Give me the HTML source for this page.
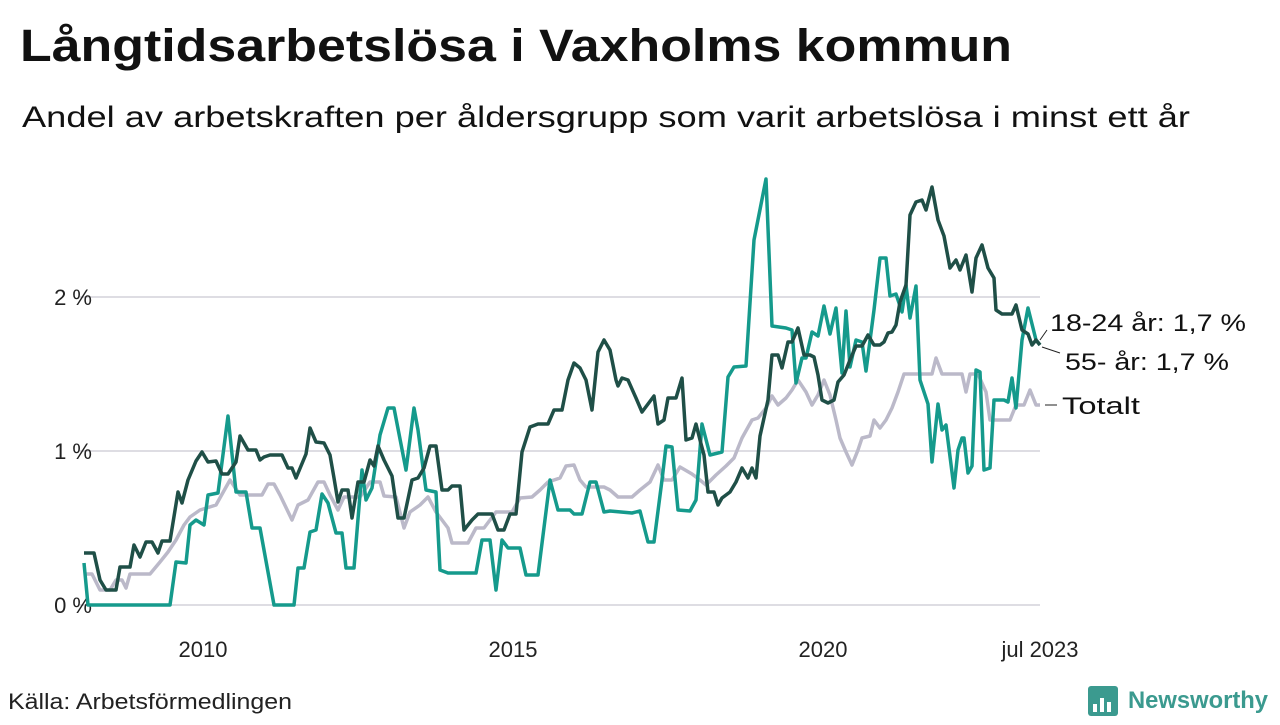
<!DOCTYPE html>
<html><head><meta charset="utf-8"><style>
body{margin:0;width:1280px;height:720px;background:#fff;overflow:hidden;font-family:"Liberation Sans","DejaVu Sans",sans-serif;color:#111}
</style></head><body>
<svg width="1280" height="720" viewBox="0 0 1280 720" xmlns="http://www.w3.org/2000/svg" font-family="Liberation Sans, DejaVu Sans, sans-serif">
<text x="20" y="61" font-size="45" font-weight="bold" fill="#111" textLength="992" lengthAdjust="spacingAndGlyphs">Långtidsarbetslösa i Vaxholms kommun</text>
<text x="22" y="127" font-size="30" fill="#111" textLength="1168" lengthAdjust="spacingAndGlyphs">Andel av arbetskraften per åldersgrupp som varit arbetslösa i minst ett år</text>
<g stroke="#dedde3" stroke-width="2">
<line x1="80" y1="297" x2="1040" y2="297"/><line x1="80" y1="451" x2="1040" y2="451"/><line x1="80" y1="605" x2="1040" y2="605"/>
</g>
<g font-size="22" fill="#222" text-anchor="end">
<text x="92" y="305">2 %</text><text x="92" y="459">1 %</text><text x="92" y="613">0 %</text>
</g>
<g font-size="22" fill="#222" text-anchor="middle">
<text x="203" y="657">2010</text><text x="513" y="657">2015</text><text x="823" y="657">2020</text><text x="1040" y="657">jul 2023</text>
</g>
<g fill="none" stroke-width="3.5" stroke-linejoin="round">
<polyline stroke="#bbb9c9" points="84,574 92,574 100,590 110,590 116,580 122,580 126,588 130,574 150,574 160,562 168,552 176,540 184,525 190,517 200,510 216,505 230,480 240,495 262,495 268,484 274,484 280,495 292,520 298,505 308,500 318,482 324,482 330,495 338,510 344,497 360,497 370,482 380,482 384,496 396,497 404,528 410,512 420,505 428,497 436,512 448,528 452,543 468,543 476,528 484,528 496,512 512,512 520,498 532,497 540,490 548,482 560,478 566,466 574,465 580,480 586,487 604,487 610,490 618,497 632,497 640,490 650,482 658,465 664,480 672,480 680,467 692,474 700,480 706,485 716,475 726,466 734,458 742,438 752,420 758,418 766,408 772,396 778,405 786,398 792,390 798,380 806,392 812,405 818,395 824,380 830,395 836,420 840,438 846,452 852,465 858,450 862,438 870,436 874,420 880,428 886,420 892,408 898,392 904,374 932,374 936,358 942,374 962,374 966,392 970,374 978,374 986,392 990,420 1010,420 1016,405 1024,405 1030,390 1036,405 1040,405"/>
<polyline stroke="#159a8c" points="84,563 88,605 170,605 176,562 186,563 190,525 196,520 204,525 208,495 218,493 228,416 236,492 246,492 252,528 260,528 274,605 294,605 298,568 304,568 310,532 316,530 322,494 328,503 336,533 342,533 346,568 354,568 362,470 366,500 372,488 380,435 388,408 394,408 406,470 414,408 418,430 426,490 436,492 440,570 448,573 476,573 482,540 490,540 496,590 502,540 508,548 520,548 526,575 538,575 550,480 558,510 570,510 574,514 582,514 590,482 596,482 604,512 610,511 632,513 640,511 648,542 654,542 662,480 666,446 672,447 678,510 690,511 696,500 702,424 710,455 722,452 728,377 734,367 746,366 754,240 766,179 772,326 786,328 792,330 796,383 802,358 806,358 812,332 818,336 824,306 830,334 836,308 842,373 846,311 850,367 856,340 862,342 866,371 874,310 880,258 886,258 890,296 896,294 902,312 906,285 910,318 916,286 920,380 928,404 932,462 938,404 942,430 946,425 954,488 958,450 962,438 964,438 968,473 972,466 976,370 980,372 984,470 990,468 994,400 1004,400 1008,402 1012,378 1016,408 1022,340 1028,308 1036,340 1040,345"/>
<polyline stroke="#1f4f47" points="84,553 94,553 100,580 106,590 116,590 120,567 130,567 134,545 140,557 146,542 152,542 158,553 162,541 170,541 178,492 182,503 188,480 196,461 202,452 208,462 216,461 222,474 228,474 236,462 240,436 248,450 256,450 260,460 264,457 270,455 282,455 288,468 292,468 296,478 306,454 310,428 316,442 324,443 330,455 334,478 338,502 342,490 348,490 352,518 358,482 364,482 370,460 374,466 378,446 384,460 392,476 398,518 404,518 412,480 418,478 424,468 430,446 436,446 442,490 448,490 452,486 460,486 464,530 472,520 478,514 492,514 498,530 504,530 510,514 516,514 522,452 530,427 538,424 548,424 554,410 562,410 568,380 574,363 580,368 586,380 592,410 598,352 604,340 610,350 616,380 618,386 622,378 628,380 636,398 642,412 648,404 654,396 658,424 664,420 668,398 676,398 682,378 686,440 692,438 696,424 700,440 704,455 708,492 714,492 718,505 722,498 730,492 736,482 742,468 748,478 752,468 756,478 760,436 768,400 772,355 778,355 782,368 788,342 792,342 798,328 804,355 810,355 814,357 818,375 822,400 828,403 834,400 838,382 844,375 850,360 856,346 862,346 868,335 874,345 880,345 884,342 888,333 892,332 896,325 900,302 906,285 910,215 916,202 922,200 926,210 932,187 938,220 944,236 950,268 956,260 960,270 966,255 972,292 976,258 982,245 988,268 994,278 996,310 1002,314 1012,314 1016,305 1022,330 1028,334 1032,345 1036,340 1040,345"/>
</g>
<g stroke="#222" stroke-width="1">
<line x1="1040" y1="340" x2="1047" y2="330"/><line x1="1042" y1="347" x2="1060" y2="353"/><line x1="1045" y1="405" x2="1057" y2="405"/>
</g>
<g font-size="24" fill="#111">
<text x="1050" y="331" textLength="196" lengthAdjust="spacingAndGlyphs">18-24 år: 1,7 %</text>
<text x="1065" y="370" textLength="164" lengthAdjust="spacingAndGlyphs">55- år: 1,7 %</text>
<text x="1062" y="414" textLength="78" lengthAdjust="spacingAndGlyphs">Totalt</text>
</g>
<text x="8" y="709" font-size="22" fill="#222" textLength="284" lengthAdjust="spacingAndGlyphs">Källa: Arbetsförmedlingen</text>
<rect x="1088" y="686" width="30" height="30" rx="3" fill="#3b9a8f"/>
<g fill="#fff"><rect x="1093" y="704" width="4" height="8"/><rect x="1100" y="698" width="4" height="14"/><rect x="1107" y="702" width="4" height="10"/></g>
<text x="1128" y="708" font-size="24" font-weight="bold" fill="#3b9a8f" textLength="140" lengthAdjust="spacingAndGlyphs">Newsworthy</text>
</svg>
</body></html>
